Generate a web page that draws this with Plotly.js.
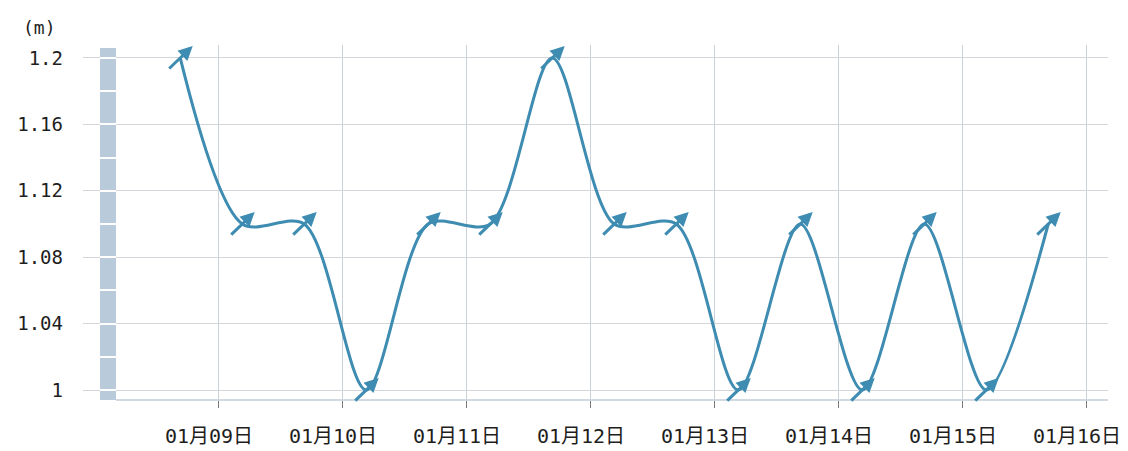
<!DOCTYPE html>
<html>
<head>
<meta charset="utf-8">
<script src="https://cdn.plot.ly/plotly-3.0.1.min.js"></script>
<style>
  html, body { margin: 0; padding: 0; background: #ffffff; }
  #chart { width: 1128px; height: 451px; }
</style>
</head>
<body>
<div id="chart"></div>
<script>
// ---- data ----
const times = [
  '2024-01-08 16:30', '2024-01-09 04:30', '2024-01-09 16:30',
  '2024-01-10 04:30', '2024-01-10 16:30', '2024-01-11 04:30',
  '2024-01-11 16:30', '2024-01-12 04:30', '2024-01-12 16:30',
  '2024-01-13 04:30', '2024-01-13 16:30', '2024-01-14 04:30',
  '2024-01-14 16:30', '2024-01-15 04:30', '2024-01-15 16:30'
];
const levels = [1.2, 1.1, 1.1, 1.0, 1.1, 1.1, 1.2, 1.1, 1.1, 1.0, 1.1, 1.0, 1.1, 1.0, 1.1];

const xTickVals = ['2024-01-09', '2024-01-10', '2024-01-11', '2024-01-12',
                   '2024-01-13', '2024-01-14', '2024-01-15', '2024-01-16'];
const xTickText = ['01月09日', '01月10日', '01月11日', '01月12日',
                   '01月13日', '01月14日', '01月15日', '01月16日'];
const yTickVals = [1.0, 1.04, 1.08, 1.12, 1.16, 1.2];
const yTickText = ['1', '1.04', '1.08', '1.12', '1.16', '1.2'];
const unitLabel = '(m)';

// ---- styles ----
const lineColor = '#3e8cb1';
const fontFamily = 'DejaVu Sans Mono, Noto Sans CJK SC, monospace';
const yRange = [0.994, 1.2078];

const trace = {
  type: 'scatter',
  mode: 'lines',
  x: times,
  y: levels,
  line: { color: lineColor, width: 3, shape: 'spline', smoothing: 0.85 },
  hoverinfo: 'skip',
  showlegend: false
};

// direction arrows, one at every data point, centred on the point
const arrowAnnotations = times.map((t, i) => ({
  x: t, y: levels[i], xref: 'x', yref: 'y',
  text: '', showarrow: true,
  arrowhead: 2, arrowsize: 0.95, arrowwidth: 3, arrowcolor: lineColor,
  ax: -25, ay: 24, xshift: 12.5, yshift: 12
}));

const layout = {
  width: 1128, height: 451,
  margin: { l: 83, r: 20, t: 45, b: 51 },
  paper_bgcolor: '#ffffff', plot_bgcolor: '#ffffff',
  showlegend: false,
  xaxis: {
    type: 'date',
    range: ['2024-01-07 21:41', '2024-01-16 04:04'],
    tickvals: xTickVals, ticktext: xTickText,
    showgrid: true, gridcolor: '#c9d1d9', gridwidth: 1,
    ticks: 'outside', ticklen: 7, tickwidth: 1, tickcolor: '#7a7a7a',
    ticklabelstandoff: 11, ticklabelshift: -10, ticklabeloverflow: 'allow',
    showline: false, zeroline: false,
    tickfont: { family: fontFamily, size: 20, color: '#1e1e1e' }, fixedrange: true
  },
  yaxis: {
    range: yRange,
    tickvals: yTickVals, ticktext: yTickText,
    showgrid: true, gridcolor: '#d3d7db', gridwidth: 1,
    ticks: '', ticklabelstandoff: 19,
    showline: false, zeroline: false,
    tickfont: { family: fontFamily, size: 19, color: '#1e1e1e' }, fixedrange: true
  },
  yaxis2: {
    overlaying: 'y', anchor: 'free', side: 'left',
    position: 0.0322,
    range: yRange,
    tickvals: yTickVals, showticklabels: false,
    ticks: 'outside', ticklen: 16, tickwidth: 2, tickcolor: '#ffffff',
    minor: { dtick: 0.02, tick0: 1.0, ticks: 'outside', ticklen: 16, tickwidth: 2, tickcolor: '#ffffff', showgrid: false },
    showgrid: false, showline: false, zeroline: false, fixedrange: true
  },
  shapes: [
    { type: 'rect', xref: 'paper', yref: 'y', x0: 0.0166, x1: 0.0322, y0: 0.994, y1: 1.206,
      fillcolor: '#b9cadb', line: { width: 0 }, layer: 'between' },
    { type: 'line', xref: 'paper', yref: 'paper', x0: 0.0322, x1: 1, y0: 0, y1: 0,
      line: { color: '#c3cdd6', width: 1.5 }, layer: 'between' }
  ],
  annotations: [
    { text: unitLabel, xref: 'paper', yref: 'paper', x: -0.042, y: 1.05,
      xanchor: 'center', yanchor: 'middle', showarrow: false,
      font: { family: fontFamily, size: 18, color: '#1e1e1e' } }
  ].concat(arrowAnnotations)
};

// invisible trace so yaxis2 is drawn
const ghost = { type: 'scatter', mode: 'markers', x: [times[0]], y: [levels[0]], yaxis: 'y2',
  marker: { opacity: 0 }, hoverinfo: 'skip', showlegend: false };

Plotly.newPlot('chart', [trace, ghost], layout, { displayModeBar: false, staticPlot: true });
</script>
</body>
</html>
